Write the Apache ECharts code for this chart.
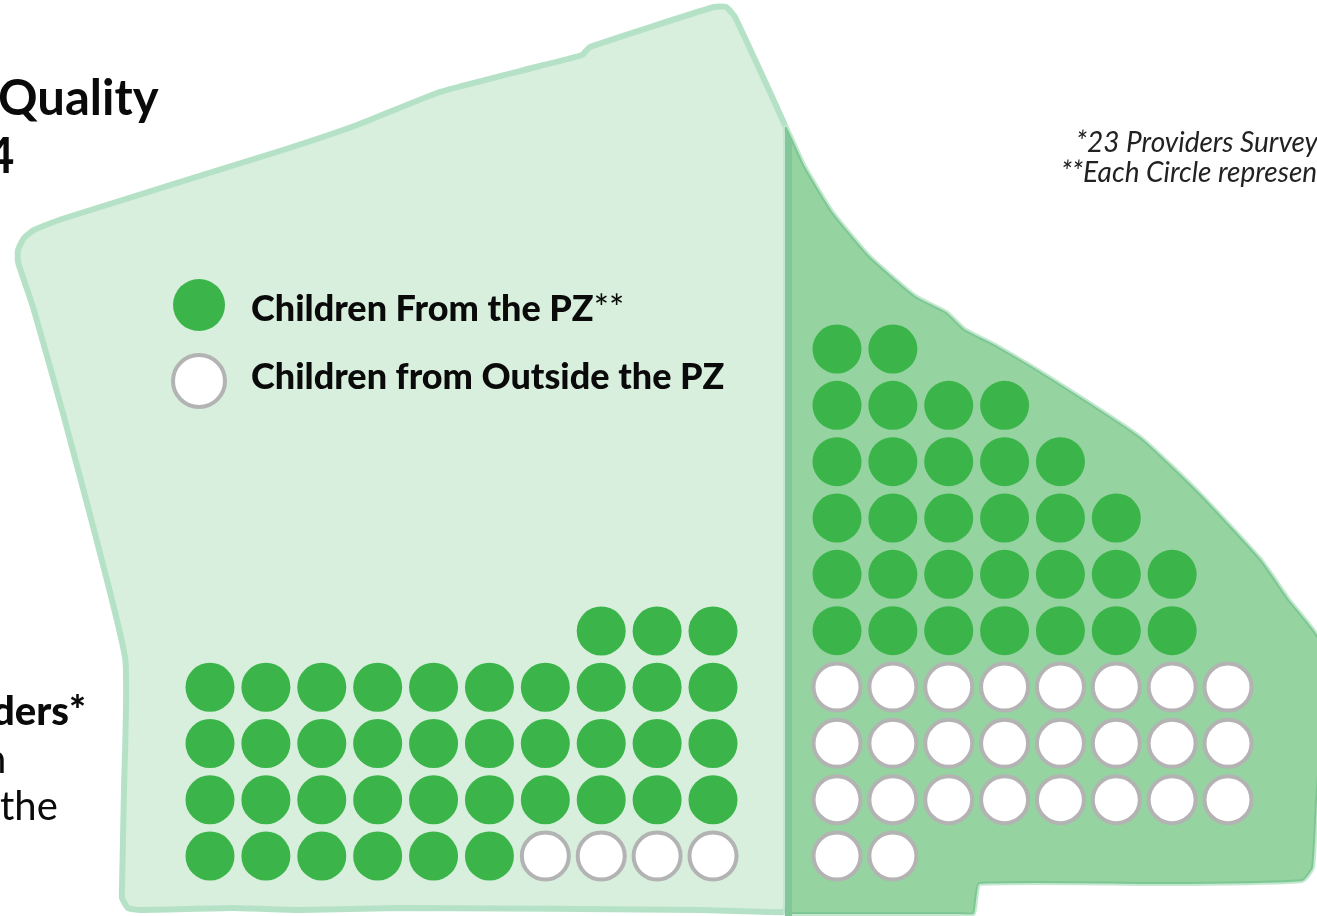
<!DOCTYPE html>
<html>
<head>
<meta charset="utf-8">
<style>html,body{margin:0;padding:0;background:#fff;overflow:hidden}#c{width:1317px;height:916px}</style>
<script src="https://cdn.jsdelivr.net/npm/echarts@6/dist/echarts.min.js"></script>
</head>
<body>
<div id="c"></div>
<script>
// Each row lists, top to bottom: first column filled, circles from the PZ, circles from outside the PZ
const leftStartCols = [7, 0, 0, 0, 0];
const leftPZCounts = [3, 10, 10, 10, 6];
const leftOutsideCounts = [0, 0, 0, 0, 4];
const rightStartCols = [0, 0, 0, 0, 0, 0, 0, 0, 0, 0];
const rightPZCounts = [2, 4, 5, 6, 7, 7, 0, 0, 0, 0];
const rightOutsideCounts = [0, 0, 0, 0, 0, 0, 8, 8, 8, 2];
const seriesNames = ['Children From the PZ', 'Children from Outside the PZ'];

function points(starts, pz, out) {
  const a = [], b = [];
  starts.forEach((s, r) => {
    for (let i = 0; i < pz[r]; i++) a.push([s + i, r]);
    for (let i = 0; i < out[r]; i++) b.push([s + pz[r] + i, r]);
  });
  return [a, b];
}
const [lp, lo] = points(leftStartCols, leftPZCounts, leftOutsideCounts);
const [rp, ro] = points(rightStartCols, rightPZCounts, rightOutsideCounts);

const pzStyle = { color: '#3bb54a', opacity: 1 };
const outStyle = { color: '#ffffff', borderColor: '#b3b3b3', borderWidth: 4, opacity: 1 };
function dots(name, data, idx, outside) {
  return {
    type: 'scatter', name, data, xAxisIndex: idx, yAxisIndex: idx, clip: false, z: 5,
    symbol: 'circle', symbolSize: outside ? 47 : 49,
    itemStyle: outside ? outStyle : pzStyle, silent: true
  };
}
const hiddenX = (max) => ({ type: 'value', min: 0, max, show: false });
const hiddenY = (max, gridIndex) => ({ type: 'value', min: 0, max, inverse: true, show: false, gridIndex });

const lightShape = [[62,219],[283,150],[357,125],[440,92],[540,66],[582,55],[590,47],[714,7],[726,7],[735,17],
  [786,128],[786,136],[786,900],[786,908],[784,912],[770,912],[700,910],[400,908],[300,910],[233,908],[140,910],[128,908],[122,898],[122,887],[124,790],
  [125,657],[64,417],[33,307],[18,262],[18,250],[24,238],[34,230]];
const darkShape = [[786,128],[804,167],[832,213],[869,257],[915,297],[946,313],[964,330],[997,347],[1052,380],
  [1140,438],[1200,495],[1260,560],[1288,600],[1320,642],[1322,720],[1316,800],[1312,867],[1302,880],[1181,883],
  [979,883],[975,900],[973,913],[960,913],[800,913],[790,913],[786,913],[786,905],[786,140],[786,134]];

const FONT = 'Lato';
const INK = '#0a0a0a';
const chart = echarts.init(document.getElementById('c'), null, { renderer: 'canvas' });
chart.setOption({
  animation: false,
  backgroundColor: '#ffffff',
  grid: [
    { left: 210, top: 631, width: 503, height: 225 },
    { left: 837, top: 349, width: 391, height: 507 }
  ],
  xAxis: [hiddenX(9), Object.assign(hiddenX(7), { gridIndex: 1 })],
  yAxis: [hiddenY(4, 0), hiddenY(9, 1)],
  legend: {
    left: 171, top: 279, padding: 0, orient: 'vertical', icon: 'circle',
    itemWidth: 52, itemHeight: 52, itemGap: 22,
    selectedMode: false,
    data: [{ name: seriesNames[0] }, { name: seriesNames[1], itemStyle: { borderWidth: 4, borderColor: '#b3b3b3' } }],
    formatter: (n) => n === seriesNames[0] ? '{g|}{a|' + n + '}{s|**}' : '{g|}{b|' + n + '}',
    textStyle: { rich: {
      g: { width: 21 },
      a: { fontFamily: FONT, fontWeight: 900, fontSize: 36, color: INK, padding: [8, 0, 0, 0] },
      b: { fontFamily: FONT, fontWeight: 900, fontSize: 36, color: INK, padding: [0, 0, 8, 0] },
      s: { fontFamily: FONT, fontWeight: 400, fontSize: 36, color: INK, padding: [8, 0, 0, 0] }
    } }
  },
  series: [
    dots(seriesNames[0], lp, 0, false),
    dots(seriesNames[1], lo, 0, true),
    dots(seriesNames[0], rp, 1, false),
    dots(seriesNames[1], ro, 1, true)
  ],
  graphic: [
    { type: 'polygon', z: 0, shape: { points: lightShape, smooth: 0.15 }, style: { fill: '#d7efdc', stroke: '#b5e2c6', lineWidth: 6, lineJoin: 'round' } },
    { type: 'polygon', z: 1, shape: { points: darkShape, smooth: 0.15 }, style: { fill: '#95d3a0', stroke: '#c3e7cf', lineWidth: 6, lineJoin: 'round' } },
    { type: 'polygon', z: 1, shape: { points: darkShape, smooth: 0.15 }, style: { fill: '#95d3a0', stroke: '#7cc793', lineWidth: 2, lineJoin: 'round' } },
    { type: 'polygon', z: 2, shape: { points: [[785,126],[792,143],[792,916],[785,916]] }, style: { fill: '#82c69a' } },
    { type: 'text', z: 10, x: -2, y: 75, style: { text: 'Quality', font: 'bold 49px ' + FONT, fill: INK } },
    { type: 'text', z: 10, x: -14, y: 133, style: { text: '4', font: 'bold 49px ' + FONT, fill: INK } },
    { type: 'text', z: 10, x: -8, y: 692, style: { text: 'ders*', font: '900 40px ' + FONT, fill: INK } },
    { type: 'text', z: 10, x: -16, y: 740, style: { text: 'n', font: '400 40px ' + FONT, fill: INK } },
    { type: 'text', z: 10, x: 0, y: 787, style: { text: 'the', font: '400 40px ' + FONT, fill: INK } },
    { type: 'text', z: 10, x: 1076, y: 129, style: { text: '*23 Providers Surveyed', font: 'italic 400 28px ' + FONT, fill: '#222222' } },
    { type: 'text', z: 10, x: 1061, y: 159, style: { text: '**Each Circle represents', font: 'italic 400 28px ' + FONT, fill: '#222222' } }
  ]
});
</script>
</body>
</html>
